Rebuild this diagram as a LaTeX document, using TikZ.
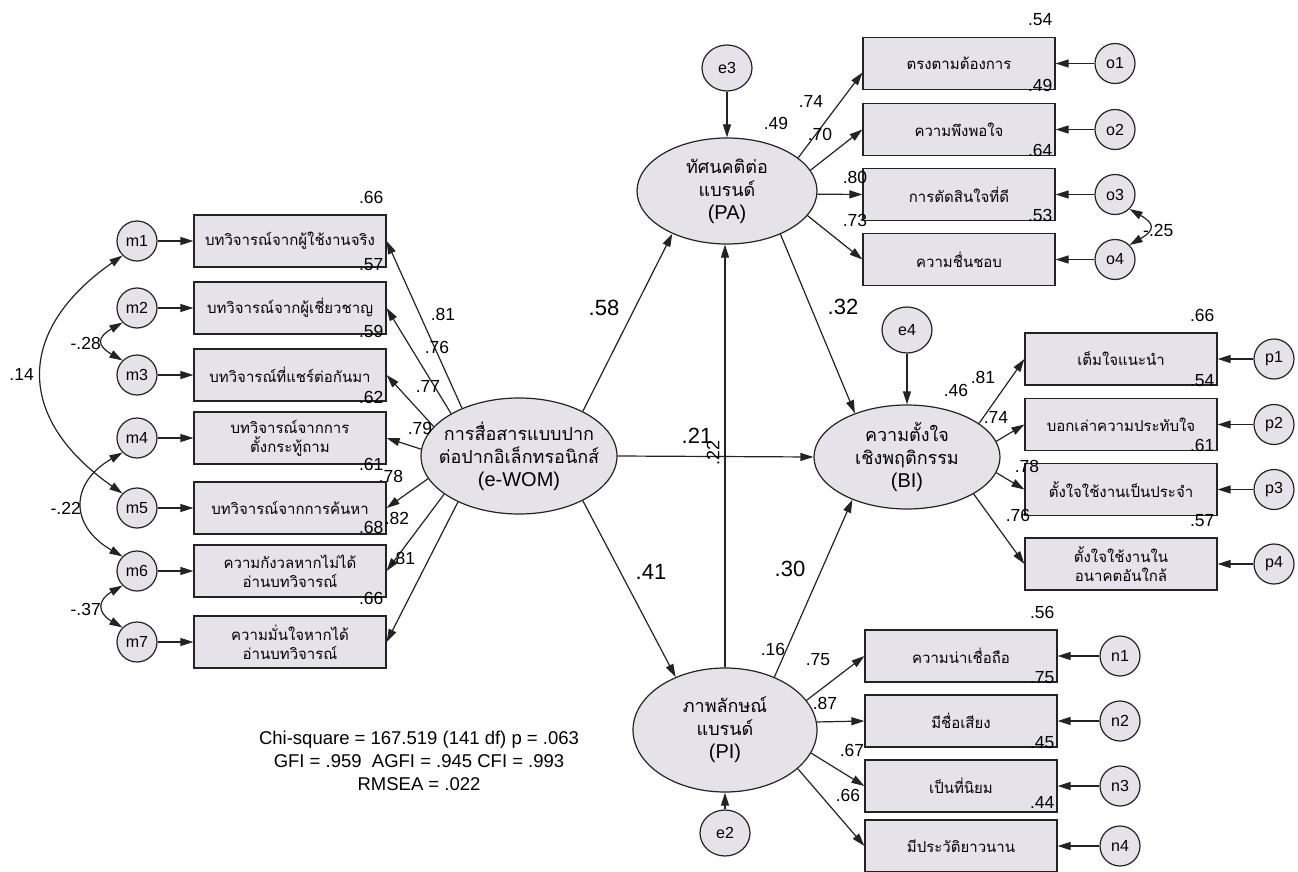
\documentclass[tikz,border=0pt]{standalone}
\usepackage{fontspec}
\setmainfont{Liberation Sans}
\newfontfamily\thai[Script=Thai]{Loma}
\usetikzlibrary{shapes.geometric,arrows.meta,calc}
\definecolor{fillc}{RGB}{229,226,234}
\definecolor{linec}{RGB}{35,35,35}
\begin{document}
\begin{tikzpicture}[x=1pt,y=1pt,
 every node/.style={inner sep=0pt},
 lat/.style={ellipse, draw=linec, fill=fillc, line width=1.2pt},
 ltext/.style={align=center, font=\fontsize{20}{23}\selectfont},
 obs/.style={rectangle, draw=linec, fill=fillc, line width=1.2pt, minimum width=192pt, minimum height=52pt, align=center, font=\thai\fontsize{15}{19}\selectfont},
 errc/.style={circle, draw=linec, fill=fillc, line width=1.2pt, minimum size=40pt, font=\fontsize{16}{16}\selectfont},
 erre/.style={ellipse, draw=linec, fill=fillc, line width=1.2pt, minimum width=50pt, minimum height=46pt, font=\fontsize{16}{16}\selectfont},
 pth/.style={-{Triangle[length=13pt,width=8pt]}, line width=1.2pt, draw=linec},
 cov/.style={{Triangle[length=13pt,width=8pt]}-{Triangle[length=13pt,width=8pt]}, line width=1.2pt, draw=linec},
 num/.style={font=\fontsize{17.5}{17.5}\selectfont},
 big/.style={font=\fontsize{22}{22}\selectfont},
 r2/.style={anchor=south east, font=\fontsize{17.5}{17.5}\selectfont, xshift=-3pt, yshift=11pt},
]
\useasboundingbox (0,0) rectangle (1298,-872);

% ---------- left indicators ----------
\node[obs, label={[r2]north east:.66}] (b1) at (290,-241) {บทวิจารณ์จากผู้ใช้งานจริง};
\node[obs, label={[r2]north east:.57}] (b2) at (290,-308) {บทวิจารณ์จากผู้เชี่ยวชาญ};
\node[obs, label={[r2]north east:.59}] (b3) at (290,-375) {บทวิจารณ์ที่แชร์ต่อกันมา};
\node[obs, label={[r2,yshift=-3pt]north east:.62}] (b4) at (290,-438) {{\thai บทวิจารณ์จากการ}\\{\thai ตั้งกระทู้ถาม}};
\node[obs, label={[r2]north east:.61}] (b5) at (290,-508) {บทวิจารณ์จากการค้นหา};
\node[obs, label={[r2]north east:.68}] (b6) at (290,-571) {{\thai ความกังวลหากไม่ได้}\\{\thai อ่านบทวิจารณ์}};
\node[obs, label={[r2]north east:.66}] (b7) at (290,-642) {{\thai ความมั่นใจหากได้}\\{\thai อ่านบทวิจารณ์}};

\node[errc] (m1) at (137,-241) {m1};
\node[errc] (m2) at (137,-308) {m2};
\node[errc] (m3) at (137,-375) {m3};
\node[errc] (m4) at (137,-438) {m4};
\node[errc] (m5) at (137,-508) {m5};
\node[errc] (m6) at (137,-571) {m6};
\node[errc] (m7) at (137,-642) {m7};
\foreach \i in {1,...,7} {\draw[pth] (m\i.east) -- (b\i.west);}

% ---------- latent variables ----------
\node[lat, minimum width=196pt, minimum height=116pt,
  label={[ltext]center:{{\thai\fontsize{18}{23}\selectfont การสื่อสารแบบปาก}\\{\thai\fontsize{18}{23}\selectfont ต่อปากอิเล็กทรอนิกส์}\\(e-WOM)}}] (ewom) at (519,-456) {};
\node[lat, minimum width=180pt, minimum height=106pt,
  label={[ltext]center:{{\thai\fontsize{18}{23}\selectfont ทัศนคติต่อ}\\{\thai\fontsize{18}{23}\selectfont แบรนด์}\\(PA)}}] (PA) at (727,-191) {};
\node[lat, minimum width=186pt, minimum height=104pt,
  label={[ltext]center:{{\thai\fontsize{18}{23}\selectfont ความตั้งใจ}\\{\thai\fontsize{18}{23}\selectfont เชิงพฤติกรรม}\\(BI)}}] (BI) at (907,-457) {};
\node[lat, minimum width=184pt, minimum height=124pt,
  label={[ltext]center:{{\thai\fontsize{18}{23}\selectfont ภาพลักษณ์}\\{\thai\fontsize{18}{23}\selectfont แบรนด์}\\(PI)}}] (PI) at (725,-730) {};

\node[erre] (e3) at (727,-68) {e3};
\node[erre] (e4) at (907,-330) {e4};
\node[erre] (e2) at (725,-833) {e2};
\draw[pth] (e3) -- (PA);
\draw[pth] (e4) -- (BI);
\draw[pth] (e2) -- (PI);

% e-WOM loadings
\draw[pth] (ewom.140) -- (b1.east);
\draw[pth] (ewom.148) -- (b2.east);
\draw[pth] (ewom.161) -- (b3.east);
\draw[pth] (ewom.176) -- (b4.east);
\draw[pth] (ewom.194) -- (b5.east);
\draw[pth] (ewom.207) -- (b6.east);
\draw[pth] (ewom.217) -- (b7.east);
\node[num] (l1) at (443,-314) {.81};
\node[num] (l2) at (437,-347) {.76};
\node[num] (l3) at (428,-386) {.77};
\node[num] (l4) at (420,-428) {.79};
\node[num] (l5) at (391,-476) {.78};
\node[num] (l6) at (397,-518) {.82};
\node[num] (l7) at (403,-558) {.81};

% covariances left
\draw[cov] (m1.225) to[out=215,in=145,looseness=1.41] (m5.135);
\draw[cov] (m2.225) to[out=210,in=150,looseness=2.0] (m3.135);
\draw[cov] (m4.225) to[out=210,in=150,looseness=1.51] (m6.135);
\draw[cov] (m6.225) to[out=210,in=150,looseness=1.78] (m7.135);
\node[num, anchor=east] (c15) at (34,-374) {.14};
\node[num, anchor=east] (c23) at (101,-343) {-.28};
\node[num, anchor=east] (c46) at (81,-508) {-.22};
\node[num, anchor=east] (c67) at (101,-609) {-.37};

% structural paths
\draw[pth] (ewom.35) -- (PA.218);
\draw[pth] (ewom.east) -- (BI.west);
\draw[pth] (ewom.325) -- (PI.133);
\draw[pth] (PI.north) -- (PI.north |- PA.south);
\draw[pth] (PA.321) -- (BI.140);
\draw[pth] (PI.47) -- (BI.218);
\node[big] (s1) at (604,-308) {.58};
\node[big] (s2) at (697,-436) {.21};
\node[font=\fontsize{18}{18}\selectfont, rotate=90] (s3) at (713,-453) {.22};
\node[big] (s4) at (651,-572) {.41};
\node[big] (s5) at (843,-307) {.32};
\node[big] (s6) at (790,-569) {.30};
\node[num] (rPA) at (776,-123) {.49};
\node[num] (rBI) at (956,-390) {.46};
\node[num] (rPI) at (773,-649) {.16};

% ---------- PA indicators ----------
\node[obs, label={[r2]north east:.54}] (o1b) at (959,-63.5) {ตรงตามต้องการ};
\node[obs, label={[r2]north east:.49}] (o2b) at (959,-129.5) {ความพึงพอใจ};
\node[obs, label={[r2]north east:.64}] (o3b) at (959,-194.5) {การตัดสินใจที่ดี};
\node[obs, label={[r2]north east:.53}] (o4b) at (959,-259.5) {ความชื่นชอบ};
\node[errc] (o1) at (1115,-63.5) {o1};
\node[errc] (o2) at (1115,-129.5) {o2};
\node[errc] (o3) at (1115,-194.5) {o3};
\node[errc] (o4) at (1115,-259.5) {o4};
\foreach \i in {1,...,4} {\draw[pth] (o\i.west) -- (o\i b.east);}
\draw[pth] (PA.25) -- ([yshift=-9pt]o1b.west);
\draw[pth] (PA.14) -- (o2b.west);
\draw[pth] (PA.358) -- (o3b.west);
\draw[pth] (PA.343) -- (o4b.west);
\node[num] (lo1) at (811,-101) {.74};
\node[num] (lo2) at (820,-134) {.70};
\node[num] (lo3) at (855,-177) {.80};
\node[num] (lo4) at (855,-220) {.73};
\draw[cov] (o3.315) to[out=-30,in=30,looseness=2.1] (o4.45);
\node[num, anchor=west] (c34) at (1143,-230) {-.25};

% ---------- BI indicators ----------
\node[obs, label={[r2]north east:.66}] (p1b) at (1121,-359) {เต็มใจแนะนำ};
\node[obs, label={[r2]north east:.54}] (p2b) at (1121,-424.5) {บอกเล่าความประทับใจ};
\node[obs, label={[r2]north east:.61}] (p3b) at (1121,-489.5) {ตั้งใจใช้งานเป็นประจำ};
\node[obs, label={[r2]north east:.57}] (p4b) at (1121,-564) {{\thai ตั้งใจใช้งานใน}\\{\thai อนาคตอันใกล้}};
\node[errc] (p1) at (1274,-359) {p1};
\node[errc] (p2) at (1274,-424.5) {p2};
\node[errc] (p3) at (1274,-489.5) {p3};
\node[errc] (p4) at (1274,-564) {p4};
\foreach \i in {1,...,4} {\draw[pth] (p\i.west) -- (p\i b.east);}
\draw[pth] (BI.25) -- (p1b.west);
\draw[pth] (BI.10.6) -- (p2b.west);
\draw[pth] (BI.350) -- (p3b.west);
\draw[pth] (BI.331.5) -- (p4b.west);
\node[num] (lp1) at (983,-377) {.81};
\node[num] (lp2) at (996,-417) {.74};
\node[num] (lp3) at (1027,-466) {.78};
\node[num] (lp4) at (1018,-515) {.76};

% ---------- PI indicators ----------
\node[obs, label={[r2]north east:.56}] (n1b) at (961,-656) {ความน่าเชื่อถือ};
\node[obs, label={[r2]north east:.75}] (n2b) at (961,-721) {มีชื่อเสียง};
\node[obs, label={[r2]north east:.45}] (n3b) at (961,-786) {เป็นที่นิยม};
\node[obs, label={[r2]north east:.44}] (n4b) at (961,-846) {มีประวัติยาวนาน};
\node[errc] (n1) at (1120,-656) {n1};
\node[errc] (n2) at (1120,-721) {n2};
\node[errc] (n3) at (1120,-786) {n3};
\node[errc] (n4) at (1120,-846) {n4};
\foreach \i in {1,...,4} {\draw[pth] (n\i.west) -- (n\i b.east);}
\draw[pth] (PI.20) -- (n1b.west);
\draw[pth] (PI.5) -- (n2b.west);
\draw[pth] (PI.345) -- (n3b.west);
\draw[pth] (PI.332) -- (n4b.west);
\node[num] (ln1) at (818,-660) {.75};
\node[num] (ln2) at (825,-703) {.87};
\node[num] (ln3) at (852,-750) {.67};
\node[num] (ln4) at (848,-795) {.66};

% fit indices
\node[align=center, font=\fontsize{18.5}{23}\selectfont] (fit) at (419,-761)
 {Chi-square = 167.519 (141 df) p = .063\\GFI = .959\ \ AGFI = .945 CFI = .993\\RMSEA = .022};
\end{tikzpicture}
\end{document}
